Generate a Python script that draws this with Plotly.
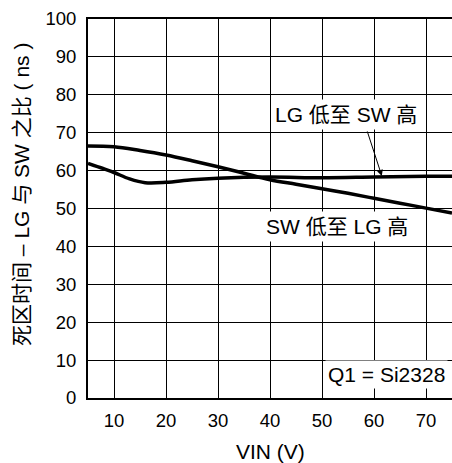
import plotly.graph_objects as go

# SW 低至 LG 高
vin_a = [5, 10, 15, 20, 25, 30, 35, 40, 45, 50, 55, 60, 65, 70, 75]
dt_a = [66.5, 66.3, 65.3, 64.1, 62.6, 61.0, 59.3, 57.6, 56.4, 55.2, 54.0, 52.7, 51.4, 50.1, 48.8]

# LG 低至 SW 高
vin_b = [5, 8, 10, 13, 16, 20, 25, 30, 40, 50, 60, 70, 75]
dt_b = [61.9, 60.5, 59.5, 57.8, 56.8, 56.9, 57.6, 58.0, 58.3, 58.1, 58.3, 58.5, 58.5]

x_ticks = [10, 20, 30, 40, 50, 60, 70]
y_ticks = [0, 10, 20, 30, 40, 50, 60, 70, 80, 90, 100]

FONT = "Liberation Sans, Arial, Noto Sans CJK SC, sans-serif"

fig = go.Figure()
fig.add_trace(go.Scatter(x=vin_a, y=dt_a, mode="lines",
                         line=dict(color="black", width=3.5, shape="spline"),
                         showlegend=False, hoverinfo="skip"))
fig.add_trace(go.Scatter(x=vin_b, y=dt_b, mode="lines",
                         line=dict(color="black", width=3.5, shape="spline"),
                         showlegend=False, hoverinfo="skip"))

fig.update_layout(
    width=452, height=463,
    margin=dict(l=88, r=0, t=19, b=65),
    paper_bgcolor="white", plot_bgcolor="white",
    font=dict(family=FONT, size=18.5, color="black"),
    xaxis=dict(range=[5, 75], tickvals=x_ticks, showgrid=True,
               gridcolor="black", gridwidth=1.2, showline=True,
               linecolor="black", linewidth=2, mirror=True, zeroline=False,
               ticks="", tickfont=dict(size=18.5), ticklabelstandoff=5),
    yaxis=dict(range=[0, 100], tickvals=y_ticks, showgrid=True,
               gridcolor="black", gridwidth=1.2, showline=True,
               linecolor="black", linewidth=2, mirror=False, zeroline=False,
               ticks="", tickfont=dict(size=18.5), ticklabelstandoff=6),
)

annots = [
    dict(x=54.67, y=74.9, xref="x", yref="y", text="LG 低至 SW 高",
         showarrow=False, bgcolor="white", borderpad=3, font=dict(size=21)),
    dict(x=61.5, y=58.6, xref="x", yref="y", text="", showarrow=True,
         ax=-15, ay=-46, arrowhead=2, arrowsize=1.2, arrowwidth=1,
         arrowcolor="black"),
    dict(x=52.8, y=45.2, xref="x", yref="y", text="SW 低至 LG 高",
         showarrow=False, bgcolor="white", borderpad=3, font=dict(size=21)),
    dict(x=62.4, y=6.3, xref="x", yref="y", text="Q1 = Si2328",
         showarrow=False, bgcolor="white", borderpad=2, font=dict(size=21)),
    dict(x=-0.181, y=0.536, xref="paper", yref="paper",
         xanchor="center", yanchor="middle",
         text="死区时间 – LG 与 SW 之比 ( ns )", textangle=-90,
         showarrow=False, font=dict(size=21)),
    dict(x=0.5, y=-0.14, xref="paper", yref="paper", text="VIN (V)",
         showarrow=False, xanchor="center", yanchor="middle", font=dict(size=21)),
]
fig.update_layout(annotations=annots)

fig.write_html("out.html")
